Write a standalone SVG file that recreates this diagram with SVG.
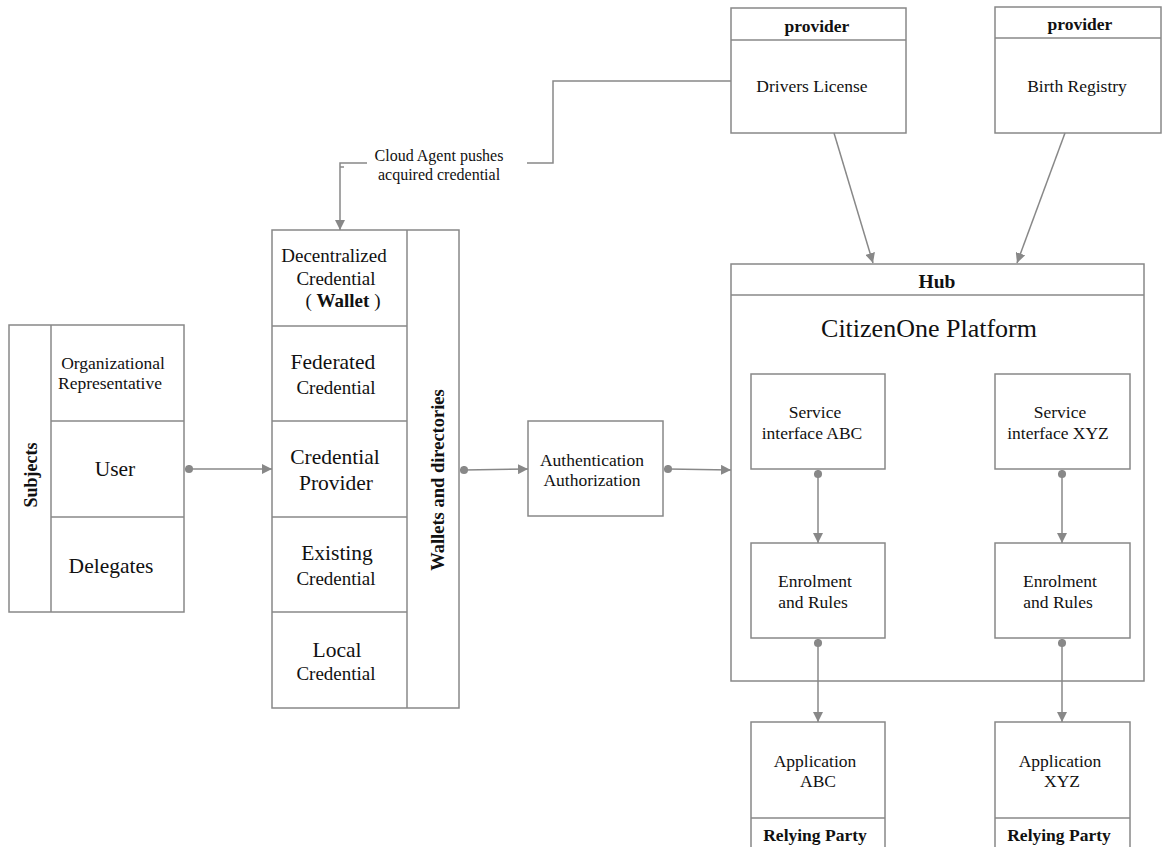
<svg xmlns="http://www.w3.org/2000/svg" width="1162" height="847" viewBox="0 0 1162 847">
<style>
.b{fill:#fff;stroke:#888;stroke-width:1.5}
.l{fill:none;stroke:#888;stroke-width:1.5}
text{font-family:"Liberation Serif","Times New Roman",serif;fill:#111;text-anchor:middle;dominant-baseline:central}
.s{font-size:17.5px}
.m{font-size:19px}
.g{font-size:21.5px}
.bd{font-weight:bold}
</style>
<defs>
<marker id="ah" viewBox="0 0 10 10" refX="10" refY="5" markerWidth="10" markerHeight="10" markerUnits="userSpaceOnUse" orient="auto"><path d="M0,0 L10,5 L0,10 z" fill="#888"/></marker>
<marker id="dt" viewBox="0 0 10 10" refX="5" refY="5" markerWidth="9" markerHeight="9" markerUnits="userSpaceOnUse"><circle cx="5" cy="5" r="4.5" fill="#888"/></marker>
</defs>
<rect width="1162" height="847" fill="#fff"/>

<g id="subjects">
<rect class="b" x="9" y="325" width="175" height="287"/>
<line class="l" x1="51" y1="325" x2="51" y2="612"/>
<line class="l" x1="51" y1="421" x2="184" y2="421"/>
<line class="l" x1="51" y1="517" x2="184" y2="517"/>
<text class="bd" font-size="18px" transform="translate(31,475) rotate(-90)">Subjects</text>
<text class="s" x="113" y="363">Organizational</text>
<text class="s" x="110" y="383">Representative</text>
<text class="g" x="115" y="469">User</text>
<text class="g" x="111" y="566">Delegates</text>
</g>

<g id="wallets">
<rect class="b" x="272" y="230" width="187" height="478"/>
<line class="l" x1="407" y1="230" x2="407" y2="708"/>
<line class="l" x1="272" y1="326" x2="407" y2="326"/>
<line class="l" x1="272" y1="421" x2="407" y2="421"/>
<line class="l" x1="272" y1="517" x2="407" y2="517"/>
<line class="l" x1="272" y1="612" x2="407" y2="612"/>
<text class="bd" font-size="18.5px" transform="translate(438,480) rotate(-90)">Wallets and directories</text>
<text class="m" x="334" y="255">Decentralized</text>
<text class="m" x="336" y="278">Credential</text>
<text class="m" x="343" y="300">( <tspan font-weight="bold">Wallet</tspan> )</text>
<text class="g" x="333" y="362">Federated</text>
<text class="m" x="336" y="387">Credential</text>
<text class="g" x="335" y="457">Credential</text>
<text class="g" x="336" y="483">Provider</text>
<text class="g" x="337" y="553">Existing</text>
<text class="m" x="336" y="578">Credential</text>
<text class="g" x="337" y="650">Local</text>
<text class="m" x="336" y="673">Credential</text>
</g>

<g id="auth">
<rect class="b" x="528" y="421" width="135" height="95"/>
<text class="s" x="592" y="460">Authentication</text>
<text class="s" x="592" y="480">Authorization</text>
</g>

<g id="provider-dl">
<rect class="b" x="731" y="8" width="175" height="125"/>
<line class="l" x1="731" y1="40" x2="906" y2="40"/>
<text class="s bd" x="817" y="26">provider</text>
<text class="s" x="812" y="86">Drivers License</text>
</g>

<g id="provider-br">
<rect class="b" x="995" y="7" width="166" height="126"/>
<line class="l" x1="995" y1="38" x2="1161" y2="38"/>
<text class="s bd" x="1080" y="24">provider</text>
<text class="s" x="1077" y="86">Birth Registry</text>
</g>

<g id="hub">
<rect class="b" x="731" y="264" width="413" height="417"/>
<line class="l" x1="731" y1="295" x2="1144" y2="295"/>
<text class="bd" font-size="19.5px" x="937" y="281">Hub</text>
<text x="929" y="328" font-size="26px">CitizenOne Platform</text>
</g>

<g id="service-abc">
<rect class="b" x="751" y="374" width="134" height="95"/>
<text class="s" x="815" y="412">Service</text>
<text class="s" x="812" y="433">interface ABC</text>
</g>
<g id="service-xyz">
<rect class="b" x="995" y="374" width="135" height="95"/>
<text class="s" x="1060" y="412">Service</text>
<text class="s" x="1058" y="433">interface XYZ</text>
</g>
<g id="enrol-abc">
<rect class="b" x="751" y="543" width="134" height="95"/>
<text class="s" x="815" y="581">Enrolment</text>
<text class="s" x="813" y="602">and Rules</text>
</g>
<g id="enrol-xyz">
<rect class="b" x="995" y="543" width="135" height="95"/>
<text class="s" x="1060" y="581">Enrolment</text>
<text class="s" x="1058" y="602">and Rules</text>
</g>
<g id="app-abc">
<rect class="b" x="751" y="722" width="134" height="130"/>
<line class="l" x1="751" y1="818" x2="885" y2="818"/>
<text class="s" x="815" y="761">Application</text>
<text class="s" x="818" y="781">ABC</text>
<text class="s bd" x="815" y="835">Relying Party</text>
</g>
<g id="app-xyz">
<rect class="b" x="995" y="722" width="135" height="130"/>
<line class="l" x1="995" y1="818" x2="1130" y2="818"/>
<text class="s" x="1060" y="761">Application</text>
<text class="s" x="1062" y="781">XYZ</text>
<text class="s bd" x="1059" y="835">Relying Party</text>
</g>

<g id="connectors">
<line class="l" x1="189" y1="469" x2="272" y2="469" marker-start="url(#dt)" marker-end="url(#ah)"/>
<line class="l" x1="464" y1="470" x2="528" y2="469" marker-start="url(#dt)" marker-end="url(#ah)"/>
<line class="l" x1="668" y1="469" x2="731" y2="470" marker-start="url(#dt)" marker-end="url(#ah)"/>
<line class="l" x1="818" y1="474" x2="818" y2="543" marker-start="url(#dt)" marker-end="url(#ah)"/>
<line class="l" x1="1062" y1="474" x2="1062" y2="543" marker-start="url(#dt)" marker-end="url(#ah)"/>
<line class="l" x1="818" y1="643" x2="818" y2="722" marker-start="url(#dt)" marker-end="url(#ah)"/>
<line class="l" x1="1062" y1="643" x2="1062" y2="722" marker-start="url(#dt)" marker-end="url(#ah)"/>
<line class="l" x1="834" y1="133" x2="873" y2="263" marker-end="url(#ah)"/>
<line class="l" x1="1065" y1="133" x2="1017" y2="263" marker-end="url(#ah)"/>
<polyline class="l" points="731,81 553,81 553,163 527,163"/>
<polyline class="l" points="367,163 340,163 340,230" marker-end="url(#ah)"/>
<line class="l" x1="340" y1="167" x2="344" y2="167"/>
<text font-size="16px" x="439" y="155">Cloud Agent pushes</text>
<text font-size="16px" x="439" y="174">acquired credential</text>
</g>
</svg>
